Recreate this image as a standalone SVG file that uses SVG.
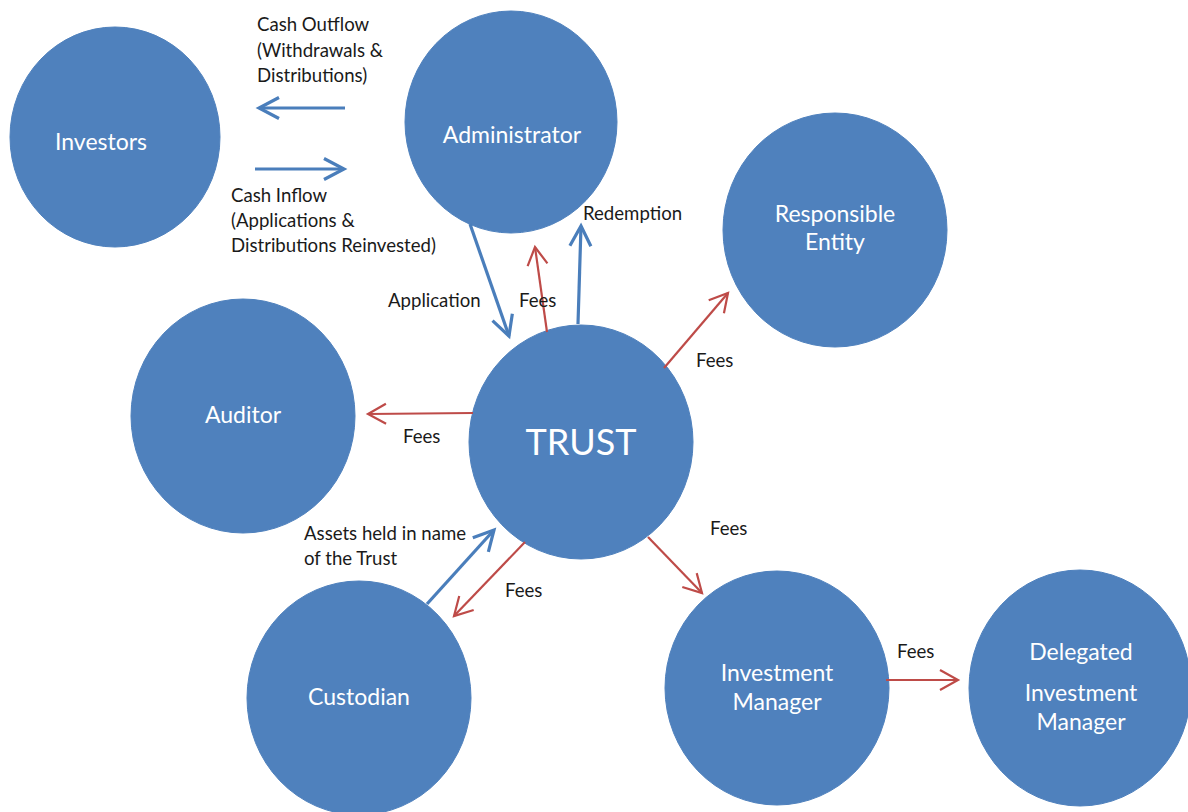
<svg xmlns="http://www.w3.org/2000/svg" width="1188" height="812" viewBox="0 0 1188 812">
<style>
.node{fill:#4F81BD;stroke:#4F81BD;stroke-width:1}
.nl{font-family:Lato,"Liberation Sans",sans-serif;font-size:23px;fill:#ffffff;text-anchor:middle}
.lb{font-family:Lato,"Liberation Sans",sans-serif;font-size:18.6px;fill:#1a1a1a}
.blue{stroke:#4A7EBB;stroke-width:3.2;fill:none;stroke-linecap:butt}
.red{stroke:#BE4B48;stroke-width:2.2;fill:none}
</style>
<defs>
<marker id="ab" markerUnits="userSpaceOnUse" viewBox="-24 -14 28 28" refX="0" refY="0" markerWidth="28" markerHeight="28" orient="auto">
<path d="M-20,-10.5 L0,0 L-20,10.5" fill="none" stroke="#4A7EBB" stroke-width="3.2"/>
</marker>
<marker id="ar" markerUnits="userSpaceOnUse" viewBox="-24 -14 28 28" refX="0" refY="0" markerWidth="28" markerHeight="28" orient="auto">
<path d="M-18,-10 L0,0 L-18,10" fill="none" stroke="#BE4B48" stroke-width="2.2"/>
</marker>
</defs>
<rect width="1188" height="812" fill="#ffffff"/>
<g id="investors"><ellipse class="node" cx="115" cy="137" rx="105" ry="110"/><text class="nl" x="101" y="150">Investors</text></g>
<g id="administrator"><ellipse class="node" cx="511" cy="122" rx="106" ry="111"/><text class="nl" x="512" y="143">Administrator</text></g>
<g id="responsible-entity"><ellipse class="node" cx="835" cy="230" rx="112" ry="117"/><text class="nl" x="835" y="222">Responsible</text><text class="nl" x="835" y="250">Entity</text></g>
<g id="auditor"><ellipse class="node" cx="243" cy="416" rx="112" ry="117"/><text class="nl" x="243" y="423">Auditor</text></g>
<g id="trust"><ellipse class="node" cx="581" cy="442" rx="112" ry="117"/><text class="nl" x="581" y="455" style="font-size:36px">TRUST</text></g>
<g id="custodian"><ellipse class="node" cx="359" cy="698" rx="112" ry="117"/><text class="nl" x="359" y="705">Custodian</text></g>
<g id="investment-manager"><ellipse class="node" cx="777" cy="688" rx="112" ry="117"/><text class="nl" x="777" y="681">Investment</text><text class="nl" x="777" y="710">Manager</text></g>
<g id="delegated-investment-manager"><ellipse class="node" cx="1080" cy="688" rx="111" ry="118"/><text class="nl" x="1081" y="660">Delegated</text><text class="nl" x="1081" y="701">Investment</text><text class="nl" x="1081" y="730">Manager</text></g>
<g id="connectors">
<line class="blue" x1="345" y1="108" x2="259" y2="108" marker-end="url(#ab)"/>
<line class="blue" x1="255" y1="169" x2="344" y2="169" marker-end="url(#ab)"/>
<line class="blue" x1="470" y1="224" x2="509" y2="336" marker-end="url(#ab)"/>
<line class="red" x1="547" y1="332" x2="535" y2="247" marker-end="url(#ar)"/>
<line class="blue" x1="578" y1="324" x2="581" y2="226" marker-end="url(#ab)"/>
<line class="red" x1="664" y1="368" x2="728" y2="293" marker-end="url(#ar)"/>
<line class="red" x1="473" y1="413" x2="368" y2="414" marker-end="url(#ar)"/>
<line class="blue" x1="427" y1="604" x2="494" y2="530" marker-end="url(#ab)"/>
<line class="red" x1="525" y1="542" x2="454" y2="616" marker-end="url(#ar)"/>
<line class="red" x1="648" y1="537" x2="702" y2="593" marker-end="url(#ar)"/>
<line class="red" x1="886" y1="680" x2="958" y2="680" marker-end="url(#ar)"/>
</g>
<g id="labels">
<text class="lb" x="257" y="31">Cash Outflow</text>
<text class="lb" x="257" y="57">(Withdrawals &amp;</text>
<text class="lb" x="257" y="82">Distributions)</text>
<text class="lb" x="231" y="202">Cash Inflow</text>
<text class="lb" x="231" y="227">(Applications &amp;</text>
<text class="lb" x="231" y="252">Distributions Reinvested)</text>
<text class="lb" x="583" y="220">Redemption</text>
<text class="lb" x="388" y="307">Application</text>
<text class="lb" x="519" y="307">Fees</text>
<text class="lb" x="696" y="367">Fees</text>
<text class="lb" x="403" y="443">Fees</text>
<text class="lb" x="304" y="540">Assets held in name</text>
<text class="lb" x="304" y="565">of the Trust</text>
<text class="lb" x="505" y="597">Fees</text>
<text class="lb" x="710" y="535">Fees</text>
<text class="lb" x="897" y="658">Fees</text>
</g>
</svg>
